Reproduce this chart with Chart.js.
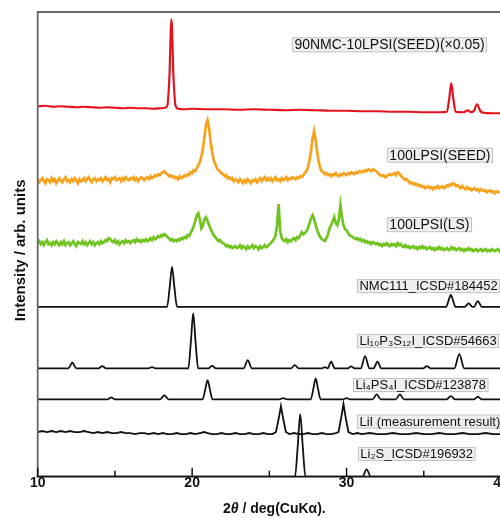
<!DOCTYPE html>
<html lang="en">
<head>
<meta charset="UTF-8">
<title>XRD patterns</title>
<style>
    html, body {
        margin: 0;
        padding: 0;
        overflow: hidden;
        background: #fff;
    }
    #wrap {
        width: 500px;
        height: 518px;
        overflow: hidden;
    }
</style>
<script src="https://cdn.jsdelivr.net/npm/chart.js"></script>
</head>
<body>
<div id="wrap"><canvas id="xrd" width="515" height="518"></canvas></div>
<script>
// ---- data (2theta in deg, intensity in arb. units, each pattern shifted by its offset) ----
const xTicks = [10, 20, 30, 40];
const xMinorTicks = [15, 25, 35];

const names = [
    '90NMC-10LPSI(SEED)(×0.05)',
    '100LPSI(SEED)',
    '100LPSI(LS)',
    'NMC111_ICSD#184452',
    'Li₁₀P₃S₁₂I_ICSD#54663',
    'Li₄PS₄I_ICSD#123878',
    'LiI (measurement result)',
    'Li₂S_ICSD#196932'
];
const offsets = [370.7, 296.7, 233.7, 170, 108.4, 77.4, 44.7, 0];
const colors = ['#e3141d', '#f5a31f', '#6fc41f', '#111', '#111', '#111', '#111', '#111'];

// 90NMC-10LPSI(SEED), scaled x0.05
const nmcSeedX = [10, 10.5, 11, 11.5, 12, 12.5, 13, 13.5, 14, 14.5, 15, 15.5, 16, 16.5, 17, 17.5, 18, 18.25, 18.4, 18.53, 18.66, 18.79, 18.92, 19.1, 19.5, 20, 21, 22, 23, 24, 25, 26, 27, 28, 29, 30, 31, 32, 33, 34, 35, 36, 36.5, 36.65, 36.78, 36.91, 37.06, 37.6, 37.85, 38.05, 38.25, 38.45, 38.65, 38.85, 39.5, 40];
const nmcSeedY = [0, 0.5, -0.5, 0, -0.5, -1, -0.5, -1, -1.5, -1, -1.5, -2, -1.5, -2, -2, -2.5, -2, -1.5, 1, 30, 87, 30, 1, -2.5, -3, -2.5, -3, -3, -3.5, -3, -3.5, -4, -3.5, -4, -4.5, -4.5, -5, -5, -5.5, -5.5, -6, -6, -5.5, 8, 23, 8, -5.5, -6, -4, -6, -4.5, 2, -4.5, -6.5, -7, -7];

// 100LPSI(SEED), step 0.1 deg from 10 to 40
const lpsiSeedY = [
    1, -2, 0, 2, -1, -3, 1, 0, -2, 2,
    -1, 1, -3, 0, 2, -1, -2, 1, 3, -1,
    0, -2, 1, -1, 2, 0, -3, 1, -1, 0,
    2, -1, 1, 3, 0, -2, 1, 2, -1, 1,
    0, 2, -1, 1, 3, 0, 1, -2, 2, 1,
    3, 0, 1, 2, -1, 2, 0, 3, 1, 0,
    2, 1, 3, 0, 2, -1, 1, 3, 2, 0,
    2, 3, 1, 4, 2, 3, 5, 4, 6, 5,
    7, 8, 9, 7, 6, 4, 5, 3, 4, 2,
    3, 1, 4, 2, 3, 5, 4, 6, 5, 8,
    7, 10, 9, 12, 15, 18, 24, 32, 44, 55,
    60, 52, 38, 28, 20, 16, 12, 10, 9, 7,
    6, 4, 5, 2, 3, 1, 2, -1, 1, 0,
    -2, 1, -1, -3, 0, -2, 1, -1, -3, 0,
    -1, 1, -2, 0, 2, -1, 1, 3, 0, 2,
    0, 2, -1, 1, 3, 0, 1, -1, 2, 0,
    1, 3, 0, 2, 1, 3, 2, 1, 3, 2,
    4, 3, 5, 7, 9, 13, 20, 30, 42, 49,
    40, 28, 18, 12, 9, 8, 6, 7, 5, 6,
    4, 6, 5, 7, 5, 4, 6, 5, 7, 6,
    5, 7, 6, 8, 7, 6, 8, 7, 9, 8,
    9, 8, 10, 9, 11, 10, 9, 11, 10, 9,
    8, 6, 5, 4, 5, 3, 4, 5, 6, 5,
    6, 7, 5, 8, 7, 5, 3, 2, 0, 1,
    -1, -3, -2, -4, -3, -5, -4, -6, -5, -7,
    -6, -8, -7, -6, -8, -7, -9, -7, -8, -6,
    -8, -7, -6, -8, -7, -5, -6, -4, -5, -3,
    -4, -6, -5, -7, -8, -6, -8, -9, -7, -9,
    -8, -10, -9, -8, -10, -9, -11, -9, -10, -11,
    -10, -12, -11, -10, -12, -11, -13, -11, -12, -12,
    -12
];

// 100LPSI(LS), step 0.1 deg from 10 to 40
const lpsiLsY = [
    0, 2, -1, 1, -2, 1, 3, -1, 0, -2,
    1, -1, 2, 0, -2, 1, -1, 2, -2, 0,
    1, -2, 0, 2, -1, -3, 1, 0, -1, 2,
    -1, 1, -2, 0, 2, -1, 1, -2, 0, 1,
    -1, 2, 0, 1, 3, 2, 5, 4, 2, 1,
    3, 0, 2, -1, 1, 2, 0, 3, 1, 2,
    0, 2, 3, 1, 4, 2, 3, 1, 3, 2,
    4, 2, 3, 5, 3, 6, 4, 5, 7, 6,
    8, 7, 9, 8, 6, 5, 3, 4, 2, 3,
    2, 4, 3, 5, 4, 6, 5, 8, 7, 10,
    13, 17, 22, 28, 30, 24, 15, 18, 24, 26,
    22, 18, 14, 11, 8, 6, 4, 2, 3, 1,
    0, -1, -3, -2, -4, -3, -5, -4, -3, -5,
    -4, -2, -5, -3, -4, -6, -3, -5, -4, -2,
    -5, -3, -4, -6, -3, -5, -4, -2, -4, -3,
    -1, 0, 2, 4, 8, 18, 39, 12, 5, 3,
    2, 4, 1, 3, 2, 4, 5, 3, 6, 5,
    8, 11, 9, 10, 12, 15, 20, 25, 28, 24,
    18, 13, 9, 6, 4, 3, 2, 5, 9, 15,
    18, 22, 26, 20, 18, 24, 38, 26, 18, 14,
    13, 10, 8, 7, 6, 5, 4, 5, 3, 4,
    2, 3, 1, 2, 0, 1, -1, 1, 0, -1,
    0, -2, -1, -3, -1, -2, 0, -2, -3, -1,
    -2, -1, -3, 0, -2, -1, -3, -4, -2, -4,
    -3, -5, -4, -3, -5, -4, -6, -4, -5, -3,
    -5, -4, -6, -5, -4, -6, -5, -7, -5, -6,
    -4, -6, -5, -7, -6, -5, -7, -6, -4, -6,
    -5, -7, -6, -5, -7, -6, -8, -6, -7, -5,
    -7, -6, -8, -7, -6, -8, -7, -6, -8, -7,
    -6, -8, -7, -8, -6, -7, -8, -7, -6, -8,
    -7
];

// NMC111 reference
const nmcRefX = [10, 18.38, 18.55, 18.7, 18.85, 19.02, 36.45, 36.6, 36.75, 36.9, 37.05, 37.65, 37.9, 38.15, 38.25, 38.5, 38.75, 40];
const nmcRefY = [0, 0, 20, 40, 20, 0, 0, 6, 12, 6, 0, 0, 3.4, 0, 0, 5.7, 0, 0];

// Li10P3S12I reference
const lpsRefX = [10, 11.98, 12.24, 12.5, 13.93, 14.18, 14.43, 17.15, 17.4, 17.65, 19.75, 19.92, 20.07, 20.22, 20.39, 21.05, 21.3, 21.55, 23.33, 23.6, 23.87, 26.4, 26.65, 26.9, 28.4, 28.6, 28.78, 29.0, 29.24, 30.08, 30.3, 30.52, 30.92, 31.2, 31.48, 31.74, 32.0, 32.26, 34.95, 35.2, 35.45, 36.98, 37.3, 37.62, 40];
const lpsRefY = [0, 0, 5.6, 0, 0, 2.3, 0, 0, 1.3, 0, 0, 27, 55, 27, 0, 0, 2.6, 0, 0, 8.3, 0, 0, 3.3, 0, 0, 1.3, 0, 6.6, 0, 0, 2, 0, 0, 12.3, 0, 0, 6.6, 0, 0, 2.3, 0, 0, 14.3, 0, 0];

// Li4PS4I reference
const lpsiRefX = [10, 14.52, 14.76, 15.0, 17.93, 18.2, 18.47, 20.68, 20.85, 21.0, 21.15, 21.32, 25.65, 25.9, 26.15, 27.68, 27.85, 28.0, 28.15, 28.32, 29.75, 30.0, 30.25, 31.68, 31.95, 32.22, 33.18, 33.45, 33.72, 36.48, 36.75, 37.02, 38.23, 38.5, 38.77, 40];
const lpsiRefY = [0, 0, 2, 0, 0, 4, 0, 0, 10, 19.3, 10, 0, 0, 1.3, 0, 0, 10.5, 21, 10.5, 0, 0, 1.3, 0, 0, 5, 0, 0, 5, 0, 0, 3.3, 0, 0, 2.6, 0, 0];

// LiI measured
const liiX = [10, 10.3, 10.6, 10.9, 11.2, 11.5, 11.8, 12.1, 12.4, 12.7, 13.0, 13.3, 13.6, 13.9, 14.2, 14.5, 14.8, 15.1, 15.4, 15.7, 16.0, 16.3, 16.6, 16.9, 17.2, 17.5, 17.8, 18.1, 18.4, 18.7, 19.0, 19.3, 19.6, 19.9, 20.2, 20.5, 20.8, 21.0, 21.3, 21.6, 21.9, 22.2, 22.5, 22.8, 23.1, 23.4, 23.7, 24.0, 24.3, 24.6, 24.9, 25.2, 25.43, 25.6, 25.75, 25.9, 26.07, 26.3, 26.6, 26.9, 27.2, 27.5, 27.8, 28.1, 28.4, 28.7, 29.0, 29.3, 29.48, 29.65, 29.8, 29.95, 30.12, 30.4, 30.7, 31.0, 31.5, 32.0, 32.5, 33.0, 33.5, 34.0, 34.5, 35.0, 35.5, 36.0, 36.5, 37.0, 37.5, 38.0, 38.5, 39.0, 39.5, 40];
const liiY = [0, 1, 0, 1, 0, 1, 0, 1, 0, 0, 1, 0, -1, 0, -1, 0, -1, -1, 0, -1, -1, -2, -1, -1, -2, -1, -2, -1, -2, -2, -1, -2, -2, -1, -2, -1, 0, -1, -2, -2, -1, -2, -2, -1, -2, -2, -1, -2, -2, -1, -2, -2, 0, 13, 26, 13, 0, -2, -1, -2, -2, -1, -2, -2, -1, -2, -2, -1, 0, 14, 28, 14, 0, -2, -1, -2, -1, -2, -2, -1, -2, -2, -1, -2, -2, -1, -2, -2, -1, -2, -2, -1, -2, -2];

// Li2S reference
const li2sX = [10, 26.66, 26.84, 27.0, 27.16, 27.34, 31.03, 31.3, 31.57, 40];
const li2sY = [0, 0, 31, 62.7, 31, 0, 0, 7.4, 0, 0];

// label anchor (left edge in deg, centre in intensity units) and font size
const labelPos = [[26.46, 432.2], [32.61, 321.7], [32.61, 252.2], [30.67, 190.7], [30.67, 135.7], [30.41, 91.7], [30.67, 55.2], [30.73, 22.7]];
const labelSize = [14, 14, 14, 13, 13, 13, 13, 13];

// ---- build datasets ----
const gridX = lpsiSeedY.map((_, i) => Math.round((10 + i * 0.1) * 10) / 10);

function pts(xs, ys, off) {
    return xs.map((x, i) => ({ x: x, y: off + ys[i] }));
}

const series = [
    [nmcSeedX, nmcSeedY, true],
    [gridX, lpsiSeedY, false],
    [gridX, lpsiLsY, false],
    [nmcRefX, nmcRefY, true],
    [lpsRefX, lpsRefY, true],
    [lpsiRefX, lpsiRefY, true],
    [liiX, liiY, false],
    [li2sX, li2sY, true]
];

const datasets = series.map((s, i) => ({
    label: names[i],
    data: pts(s[0], s[1], offsets[i]),
    borderColor: colors[i],
    borderWidth: i === 0 ? 2.2 : (i < 3 ? 2.7 : 1.8),
    pointRadius: 0,
    fill: false,
    cubicInterpolationMode: s[2] ? 'monotone' : 'default',
    tension: 0
}));

// frame, inward ticks, boxed labels, axis titles
const decor = {
    id: 'decor',
    afterDraw(chart) {
        const { ctx, chartArea: a, scales: { x, y } } = chart;
        ctx.save();

        // frame
        ctx.strokeStyle = '#666';
        ctx.lineWidth = 1.8;
        ctx.beginPath();
        ctx.moveTo(a.left, a.bottom);
        ctx.lineTo(a.left, a.top);
        ctx.lineTo(a.right, a.top);
        ctx.lineTo(a.right, a.bottom);
        ctx.stroke();
        ctx.strokeStyle = '#111';
        ctx.beginPath();
        ctx.moveTo(a.left - 1, a.bottom);
        ctx.lineTo(a.right, a.bottom);
        ctx.stroke();

        // inward ticks
        ctx.lineWidth = 1.5;
        xTicks.forEach(v => {
            const px = x.getPixelForValue(v);
            ctx.beginPath();
            ctx.moveTo(px, a.bottom);
            ctx.lineTo(px, a.bottom - 9);
            ctx.stroke();
        });
        xMinorTicks.forEach(v => {
            const px = x.getPixelForValue(v);
            ctx.beginPath();
            ctx.moveTo(px, a.bottom);
            ctx.lineTo(px, a.bottom - 6);
            ctx.stroke();
        });

        // labels
        ctx.textBaseline = 'middle';
        ctx.textAlign = 'left';
        names.forEach((t, i) => {
            const size = labelSize[i];
            ctx.font = size + 'px "Liberation Sans", Arial, Helvetica, sans-serif';
            const w = ctx.measureText(t).width;
            const px = x.getPixelForValue(labelPos[i][0]);
            const py = y.getPixelForValue(labelPos[i][1]);
            const h = size + 1;
            ctx.fillStyle = '#efefef';
            ctx.fillRect(px, py - h / 2, w + 5, h);
            ctx.strokeStyle = '#c4c4c4';
            ctx.lineWidth = 1;
            ctx.strokeRect(px + 0.5, py - h / 2 + 0.5, w + 4, h - 1);
            ctx.fillStyle = '#111';
            ctx.fillText(t, px + 2.5, py + 0.5);
        });

        // x title with italic theta
        ctx.fillStyle = '#111';
        ctx.textBaseline = 'alphabetic';
        const parts = [['2', 'bold 14px'], ['θ', 'italic bold 14px'], [' / deg(CuKα).', 'bold 14px']];
        let tx = 223;
        parts.forEach(p => {
            ctx.font = p[1] + ' "Liberation Sans", Arial, sans-serif';
            ctx.fillText(p[0], tx, 513);
            tx += ctx.measureText(p[0]).width;
        });

        // y title
        ctx.translate(25, (a.top + a.bottom) / 2 + 6);
        ctx.rotate(-Math.PI / 2);
        ctx.textAlign = 'center';
        ctx.font = 'bold 15px "Liberation Sans", Arial, sans-serif';
        ctx.fillText('Intensity / arb. units', 0, 0);
        ctx.restore();
    }
};

Chart.defaults.font.family = '"Liberation Sans", Arial, Helvetica, sans-serif';

new Chart(document.getElementById('xrd').getContext('2d'), {
    type: 'line',
    data: { datasets: datasets },
    options: {
        responsive: false,
        animation: false,
        devicePixelRatio: 1,
        layout: { padding: { left: 37.7, right: 14, top: 12, bottom: 0 } },
        plugins: {
            legend: { display: false },
            tooltip: { enabled: false }
        },
        scales: {
            x: {
                type: 'linear',
                min: 10,
                max: 40,
                ticks: {
                    stepSize: 10,
                    color: '#111',
                    padding: -2,
                    font: { size: 14, weight: 'bold' }
                },
                grid: { display: false, drawTicks: false },
                border: { display: false },
                afterFit: s => { s.height = 41.3; }
            },
            y: {
                display: false,
                min: 0,
                max: 465
            }
        }
    },
    plugins: [decor]
});
</script>
</body>
</html>
